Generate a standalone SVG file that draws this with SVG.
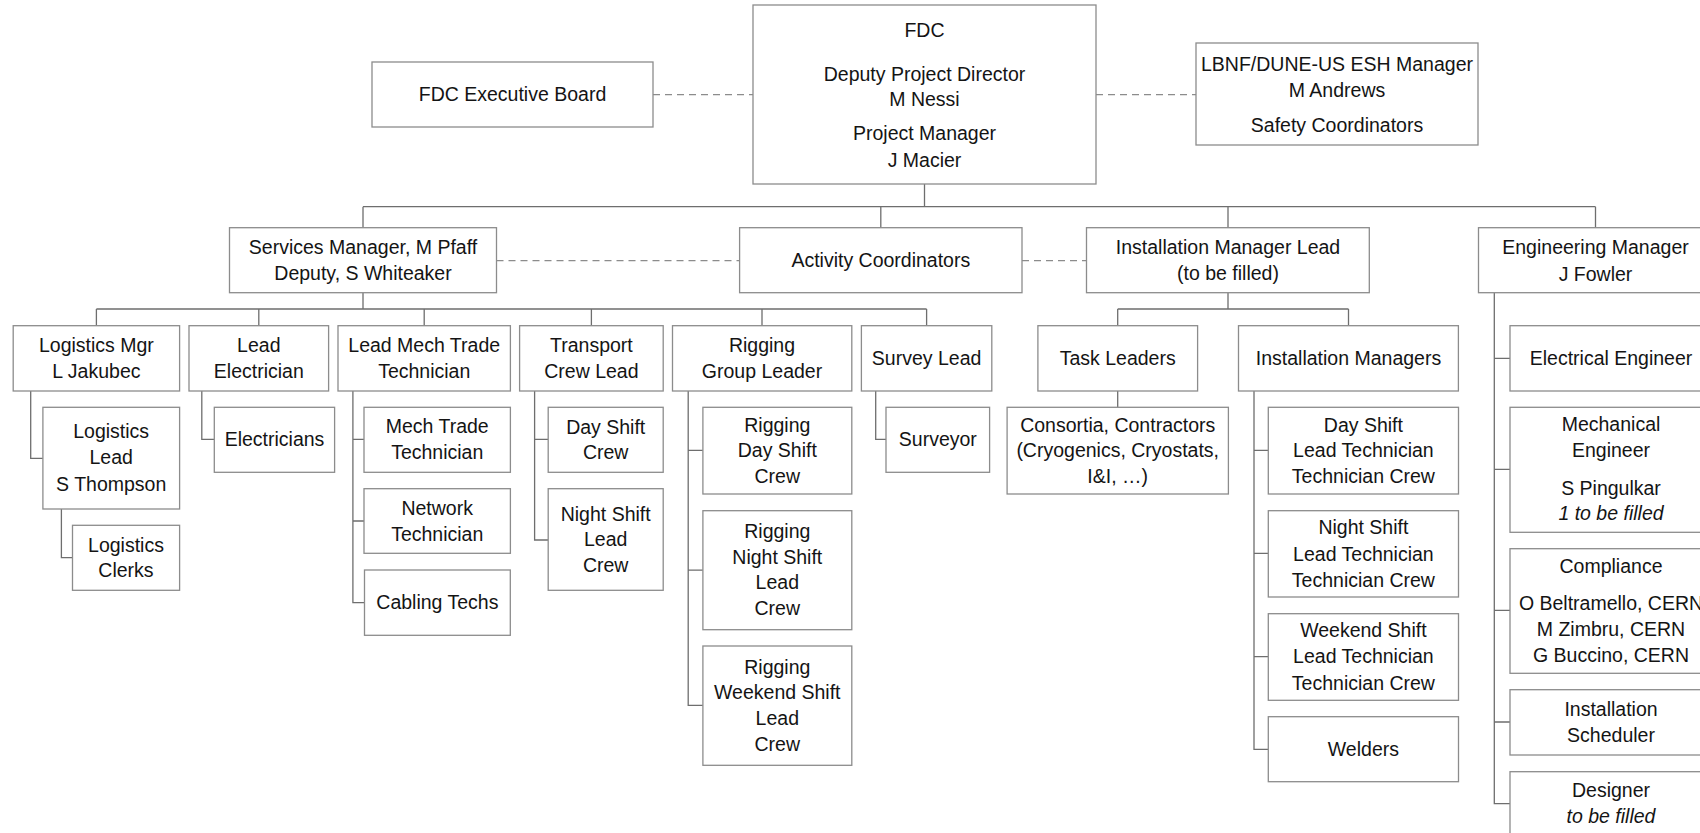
<svg xmlns="http://www.w3.org/2000/svg" width="1700" height="833" viewBox="0 0 1700 833">
<style>
.box{fill:#fff;stroke:#8c8c8c;stroke-width:1.3}
text{font-family:"Liberation Sans",Arial,sans-serif;font-size:19.5px;fill:#141414;text-anchor:middle}
.it{font-style:italic}
.conn{fill:none;stroke:#6e6e6e;stroke-width:1.3}
.dash{fill:none;stroke:#8c8c8c;stroke-width:1.3;stroke-dasharray:7 5}
</style>
<rect width="1700" height="833" fill="#fff"/>
<g id="connectors">
<path class="dash" d="M653 94.7H753M1096 94.7H1196M496.5 260.7H739.6M1022 260.7H1086.5"/>
<path class="conn" d="M924.5 184V206.7M363 206.7H1595.5M363 206.7V227.7M880.8 206.7V227.7M1228 206.7V227.7M1595.5 206.7V227.7"/>
<path class="conn" d="M363 292.7V309M96.4 309H926.6M96.4 309V325.7M258.8 309V325.7M424.2 309V325.7M591.4 309V325.7M762 309V325.7M926.6 309V325.7"/>
<path class="conn" d="M1228 292.7V309M1117.7 309H1348.5M1117.7 309V325.7M1348.5 309V325.7M1117.7 391V407.3"/>
<path class="conn" d="M30.7 391V458.3H42.9M61.4 509V557.7H72.5M201.8 391V439.3H214.3"/>
<path class="conn" d="M352.9 391V602.7H364M352.9 439.3H364M352.9 521H364"/>
<path class="conn" d="M534.6 391V540H548.2M534.6 439.3H548.2"/>
<path class="conn" d="M688.2 391V705.3H702.9M688.2 450.3H702.9M688.2 570.2H702.9"/>
<path class="conn" d="M875.7 391V439.3H886"/>
<path class="conn" d="M1254 391V749.3H1268.3M1254 450.3H1268.3M1254 553.3H1268.3M1254 656.7H1268.3"/>
<path class="conn" d="M1494.3 292.7V803.7H1510M1494.3 358.3H1510M1494.3 469.3H1510M1494.3 610.3H1510M1494.3 722H1510"/>
</g>
<g id="exec"><rect class="box" x="372" y="62" width="281" height="65"/><text x="512.5" y="101.4">FDC Executive Board</text></g>
<g id="fdc"><rect class="box" x="753" y="5" width="343" height="179"/><text x="924.5" y="36.7">FDC</text><text x="924.5" y="80.7">Deputy Project Director</text><text x="924.5" y="105.7">M Nessi</text><text x="924.5" y="140">Project Manager</text><text x="924.5" y="166.7">J Macier</text></g>
<g id="lbnf"><rect class="box" x="1196" y="43" width="282" height="102"/><text x="1337" y="70.7">LBNF/DUNE-US ESH Manager</text><text x="1337" y="97.2">M Andrews</text><text x="1337" y="132.2">Safety Coordinators</text></g>
<g id="services"><rect class="box" x="229.5" y="227.7" width="267" height="65"/><text x="363" y="254.4">Services Manager, M Pfaff</text><text x="363" y="280">Deputy, S Whiteaker</text></g>
<g id="activity"><rect class="box" x="739.6" y="227.7" width="282.4" height="65"/><text x="880.8" y="267.4">Activity Coordinators</text></g>
<g id="installLead"><rect class="box" x="1086.5" y="227.7" width="282.8" height="65"/><text x="1228" y="254.4">Installation Manager Lead</text><text x="1228" y="280">(to be filled)</text></g>
<g id="engMgr"><rect class="box" x="1478.5" y="227.7" width="234" height="65"/><text x="1595.5" y="254.2">Engineering Manager</text><text x="1595.5" y="280.7">J Fowler</text></g>
<g id="logMgr"><rect class="box" x="13.2" y="325.7" width="166.4" height="65.3"/><text x="96.4" y="352.4">Logistics Mgr</text><text x="96.4" y="378.4">L Jakubec</text></g>
<g id="leadElec"><rect class="box" x="189" y="325.7" width="139.6" height="65.3"/><text x="258.8" y="352.4">Lead</text><text x="258.8" y="378.4">Electrician</text></g>
<g id="leadMech"><rect class="box" x="338" y="325.7" width="172.4" height="65.3"/><text x="424.2" y="352.4">Lead Mech Trade</text><text x="424.2" y="378.4">Technician</text></g>
<g id="transport"><rect class="box" x="519.6" y="325.7" width="143.6" height="65.3"/><text x="591.4" y="352.4">Transport</text><text x="591.4" y="378.4">Crew Lead</text></g>
<g id="riggingGL"><rect class="box" x="672.5" y="325.7" width="179.3" height="65.3"/><text x="762" y="352.4">Rigging</text><text x="762" y="378.4">Group Leader</text></g>
<g id="survey"><rect class="box" x="861.4" y="325.7" width="130.4" height="65.3"/><text x="926.6" y="365">Survey Lead</text></g>
<g id="taskLeaders"><rect class="box" x="1037.9" y="325.7" width="159.7" height="65.3"/><text x="1117.7" y="365">Task Leaders</text></g>
<g id="installMgrs"><rect class="box" x="1238.5" y="325.7" width="219.9" height="65.3"/><text x="1348.5" y="365">Installation Managers</text></g>
<g id="elecEng"><rect class="box" x="1510" y="325.7" width="202" height="65.3"/><text x="1611" y="365">Electrical Engineer</text></g>
<g id="logLead"><rect class="box" x="42.9" y="407.3" width="136.7" height="101.7"/><text x="111.2" y="438.4">Logistics</text><text x="111.2" y="464.4">Lead</text><text x="111.2" y="490.7">S Thompson</text></g>
<g id="logClerks"><rect class="box" x="72.5" y="525.3" width="107.1" height="65"/><text x="126" y="551.7">Logistics</text><text x="126" y="577.4">Clerks</text></g>
<g id="electricians"><rect class="box" x="214.3" y="407.3" width="120.3" height="65"/><text x="274.5" y="446">Electricians</text></g>
<g id="mechTech"><rect class="box" x="364" y="407.3" width="146.4" height="65"/><text x="437.2" y="433.4">Mech Trade</text><text x="437.2" y="459">Technician</text></g>
<g id="network"><rect class="box" x="364" y="488.7" width="146.4" height="64.6"/><text x="437.2" y="515.4">Network</text><text x="437.2" y="541">Technician</text></g>
<g id="cabling"><rect class="box" x="364.5" y="570" width="145.8" height="65.3"/><text x="437.4" y="609.4">Cabling Techs</text></g>
<g id="dayCrew"><rect class="box" x="548.2" y="407.3" width="115" height="65"/><text x="605.7" y="433.7">Day Shift</text><text x="605.7" y="459">Crew</text></g>
<g id="nightCrew"><rect class="box" x="548.2" y="488.7" width="115" height="101.6"/><text x="605.7" y="520.7">Night Shift</text><text x="605.7" y="546">Lead</text><text x="605.7" y="572">Crew</text></g>
<g id="rigDay"><rect class="box" x="702.9" y="407.3" width="148.9" height="86.7"/><text x="777.3" y="432">Rigging</text><text x="777.3" y="456.7">Day Shift</text><text x="777.3" y="482.7">Crew</text></g>
<g id="rigNight"><rect class="box" x="702.9" y="510.7" width="148.9" height="119"/><text x="777.3" y="538.4">Rigging</text><text x="777.3" y="563.7">Night Shift</text><text x="777.3" y="589.4">Lead</text><text x="777.3" y="614.7">Crew</text></g>
<g id="rigWeekend"><rect class="box" x="702.9" y="646" width="148.9" height="119.3"/><text x="777.3" y="674">Rigging</text><text x="777.3" y="699.4">Weekend Shift</text><text x="777.3" y="725.4">Lead</text><text x="777.3" y="751">Crew</text></g>
<g id="surveyor"><rect class="box" x="886" y="407.3" width="103.6" height="65"/><text x="937.8" y="446">Surveyor</text></g>
<g id="consortia"><rect class="box" x="1007.1" y="407.3" width="221.3" height="86.7"/><text x="1117.7" y="432">Consortia, Contractors</text><text x="1117.7" y="456.7">(Cryogenics, Cryostats,</text><text x="1117.7" y="482.7">I&amp;I, …)</text></g>
<g id="imDay"><rect class="box" x="1268.3" y="407.3" width="190.2" height="86.7"/><text x="1363.4" y="432">Day Shift</text><text x="1363.4" y="456.7">Lead Technician</text><text x="1363.4" y="482.7">Technician Crew</text></g>
<g id="imNight"><rect class="box" x="1268.3" y="510.7" width="190.2" height="86.3"/><text x="1363.4" y="534">Night Shift</text><text x="1363.4" y="560.7">Lead Technician</text><text x="1363.4" y="586.7">Technician Crew</text></g>
<g id="imWeekend"><rect class="box" x="1268.3" y="613.7" width="190.2" height="86.6"/><text x="1363.4" y="637.4">Weekend Shift</text><text x="1363.4" y="663.4">Lead Technician</text><text x="1363.4" y="689.7">Technician Crew</text></g>
<g id="welders"><rect class="box" x="1268.3" y="716.7" width="190.2" height="65"/><text x="1363.4" y="756">Welders</text></g>
<g id="mechEng"><rect class="box" x="1510" y="407.3" width="202" height="125"/><text x="1611" y="431">Mechanical</text><text x="1611" y="457.4">Engineer</text><text x="1611" y="495.4">S Pingulkar</text><text class="it" x="1611" y="520">1 to be filled</text></g>
<g id="compliance"><rect class="box" x="1510" y="548.7" width="202" height="124.6"/><text x="1611" y="573">Compliance</text><text x="1611" y="610">O Beltramello, CERN</text><text x="1611" y="636">M Zimbru, CERN</text><text x="1611" y="662">G Buccino, CERN</text></g>
<g id="scheduler"><rect class="box" x="1510" y="689.7" width="202" height="65.3"/><text x="1611" y="716">Installation</text><text x="1611" y="741.7">Scheduler</text></g>
<g id="designer"><rect class="box" x="1510" y="771.7" width="202" height="64.8"/><text x="1611" y="796.7">Designer</text><text class="it" x="1611" y="822.7">to be filled</text></g>
</svg>
